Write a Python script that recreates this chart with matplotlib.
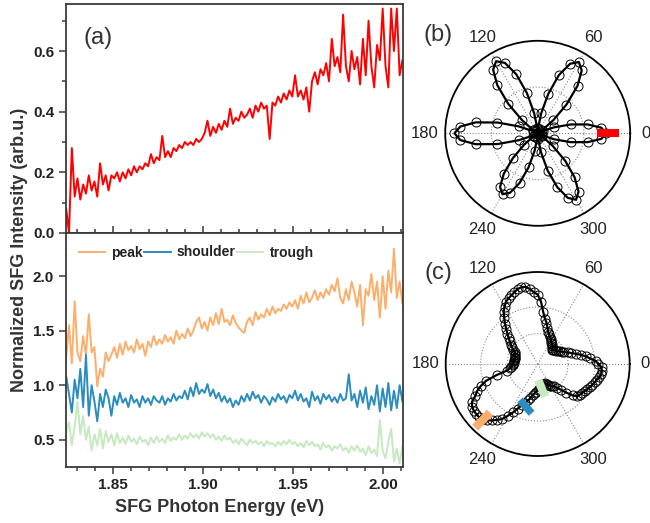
import numpy as np
import matplotlib
matplotlib.use("Agg")
import matplotlib.pyplot as plt
from matplotlib.ticker import MultipleLocator

plt.rcParams['font.family'] = ['Liberation Sans', 'DejaVu Sans']

# ---------------- data ----------------
energy_start, energy_stop = 1.824, 2.0108

spec_a = [0.08, 0.00, 0.28, 0.12,
          0.18, 0.11, 0.16, 0.13, 0.19, 0.14,
          0.17, 0.12, 0.23, 0.16, 0.19, 0.14, 0.19,
          0.18, 0.20, 0.17, 0.20, 0.18, 0.21, 0.19, 0.22,
          0.20, 0.22, 0.21, 0.23, 0.22, 0.26, 0.23, 0.25,
          0.24, 0.32, 0.25, 0.27, 0.25, 0.28, 0.27, 0.29,
          0.28, 0.30, 0.29, 0.30, 0.29, 0.31, 0.30, 0.31,
          0.33, 0.37, 0.32, 0.35, 0.33, 0.36, 0.34, 0.37,
          0.35, 0.41, 0.36, 0.38, 0.37, 0.40, 0.38, 0.39,
          0.41, 0.38, 0.42, 0.40, 0.43, 0.41, 0.42, 0.31,
          0.43, 0.42, 0.45, 0.43, 0.46, 0.44, 0.47, 0.45,
          0.52, 0.45, 0.47, 0.44, 0.48, 0.40, 0.50, 0.53,
          0.49, 0.54, 0.52, 0.56, 0.50, 0.64, 0.55, 0.58,
          0.53, 0.72, 0.55, 0.50, 0.60, 0.54, 0.58, 0.49,
          0.64, 0.52, 0.70, 0.55, 0.48, 0.62, 0.57, 0.74,
          0.55, 0.48, 0.74, 0.60, 0.74, 0.52, 0.57]

peak = [1.25, 1.55, 1.20, 1.77,
        1.30, 1.22, 1.45, 1.28, 1.65, 1.30,
        1.35, 0.99, 1.15, 1.08, 1.30, 1.22, 1.28,
        1.35, 1.25, 1.38, 1.28, 1.40, 1.32, 1.36, 1.30,
        1.42, 1.33, 1.38, 1.27, 1.40, 1.35, 1.45, 1.37,
        1.42, 1.38, 1.46, 1.40, 1.44, 1.38, 1.50, 1.42,
        1.47, 1.43, 1.52, 1.45, 1.50, 1.58, 1.62, 1.52,
        1.58, 1.50, 1.62, 1.55, 1.66, 1.56, 1.70, 1.58,
        1.60, 1.55, 1.64, 1.57, 1.53, 1.50, 1.48, 1.58,
        1.62, 1.55, 1.67, 1.60, 1.65, 1.62, 1.70, 1.64,
        1.72, 1.66, 1.70, 1.68, 1.74, 1.70, 1.76, 1.72,
        1.78, 1.70, 1.82, 1.75, 1.85, 1.76, 1.80, 1.87,
        1.78, 1.85, 1.80, 1.88, 1.83, 1.92, 1.86, 1.98,
        1.80, 1.75, 1.88, 1.78, 1.95, 1.85, 1.72, 1.92,
        1.55, 1.88, 1.82, 2.02, 1.78, 1.95, 1.62, 2.00,
        1.70, 2.05, 1.85, 2.25, 1.80, 1.95, 1.75]

shoulder = [1.08, 0.92, 0.75, 1.05,
            0.88, 1.15, 0.80, 1.28, 0.72, 1.00,
            0.85, 0.67, 0.92, 0.80, 0.96, 0.88, 0.72,
            0.90, 0.82, 0.93, 0.84, 0.88, 0.80, 0.91, 0.84,
            0.87, 0.80, 0.90, 0.84, 0.88, 0.82, 0.90, 0.86,
            0.84, 0.90, 0.82, 0.88, 0.85, 0.92, 0.86, 0.90,
            0.88, 0.95, 0.87, 0.98, 0.90, 1.02, 0.92, 0.96,
            0.93, 1.01, 0.90, 0.96, 0.88, 0.93, 0.85, 0.90,
            0.84, 0.88, 0.80, 0.86, 0.82, 0.90, 0.85, 0.92,
            0.86, 0.94, 0.88, 0.91, 0.84, 0.90, 0.87, 0.82,
            0.89, 0.85, 0.92, 0.87, 0.90, 0.84, 0.91, 0.88,
            0.95, 0.86, 0.92, 0.85, 0.88, 0.80, 0.94, 0.86,
            0.90, 0.83, 0.92, 0.87, 0.91, 0.85, 0.89, 0.84,
            0.92, 0.86, 0.88, 1.10, 0.86, 0.92, 0.80, 0.95,
            0.84, 0.98, 0.78, 0.90, 0.82, 1.00, 0.76, 0.97,
            0.80, 1.02, 0.77, 0.95, 0.79, 1.00, 0.85]

trough = [0.58, 0.66, 0.45, 0.62,
          0.85, 0.55, 0.72, 0.50, 0.62, 0.40,
          0.55, 0.45, 0.60, 0.42, 0.58, 0.48, 0.55,
          0.45, 0.56, 0.47, 0.52, 0.46, 0.54, 0.48, 0.51,
          0.46, 0.53, 0.48, 0.50, 0.45, 0.52, 0.47, 0.53,
          0.48, 0.51, 0.47, 0.54, 0.49, 0.52, 0.50, 0.55,
          0.50, 0.54, 0.51, 0.56, 0.52, 0.55, 0.51, 0.57,
          0.53, 0.56, 0.52, 0.55, 0.50, 0.53, 0.49, 0.54,
          0.50, 0.52, 0.47, 0.50, 0.46, 0.51, 0.48, 0.45,
          0.50, 0.47, 0.49, 0.46, 0.48, 0.44, 0.49, 0.46,
          0.47, 0.44, 0.48, 0.45, 0.49, 0.46, 0.50, 0.46,
          0.48, 0.44, 0.47, 0.43, 0.49, 0.45, 0.48, 0.44,
          0.46, 0.41, 0.47, 0.43, 0.45, 0.40, 0.44, 0.42,
          0.46, 0.40, 0.43, 0.38, 0.44, 0.40, 0.45, 0.39,
          0.42, 0.36, 0.44, 0.38, 0.41, 0.35, 0.68, 0.40,
          0.33, 0.48, 0.60, 0.30, 0.42, 0.28, 0.45]

legend_labels = ['peak', 'shoulder', 'trough']

# polar (b): six-fold pattern, 5 degree steps from 0
polar_b = [0.74, 0.69, 0.55, 0.37, 0.19, 0.06, 0.01, 0.06, 0.22, 0.44, 0.67, 0.83,
           0.89, 0.83, 0.67, 0.44, 0.22, 0.06, 0.01, 0.06, 0.22, 0.45, 0.68, 0.84,
           0.90, 0.84, 0.68, 0.45, 0.22, 0.06, 0.01, 0.06, 0.22, 0.45, 0.68, 0.84,
           0.90, 0.84, 0.68, 0.45, 0.22, 0.06, 0.01, 0.05, 0.19, 0.38, 0.57, 0.71,
           0.76, 0.71, 0.57, 0.38, 0.19, 0.05, 0.01, 0.06, 0.21, 0.42, 0.62, 0.77,
           0.83, 0.77, 0.62, 0.42, 0.21, 0.06, 0.01, 0.05, 0.19, 0.37, 0.55, 0.69]

# polar (c): three-lobed pattern, 3 degree steps from 0
polar_c = [0.66, 0.63, 0.575, 0.53, 0.48, 0.43, 0.385, 0.35, 0.315, 0.295,
           0.28, 0.26, 0.245, 0.235, 0.225, 0.215, 0.235, 0.25, 0.265, 0.275,
           0.29, 0.31, 0.325, 0.345, 0.37, 0.41, 0.46, 0.50, 0.57, 0.68,
           0.755, 0.78, 0.82, 0.85, 0.852, 0.845, 0.82, 0.80, 0.78, 0.76,
           0.72, 0.68, 0.62, 0.565, 0.51, 0.465, 0.425, 0.39, 0.36, 0.335,
           0.305, 0.28, 0.27, 0.265, 0.26, 0.255, 0.255, 0.258, 0.26, 0.262,
           0.265, 0.268, 0.29, 0.31, 0.34, 0.46, 0.59, 0.66, 0.72, 0.76,
           0.825, 0.85, 0.86, 0.862, 0.86, 0.845, 0.823, 0.79, 0.75, 0.715,
           0.65, 0.59, 0.53, 0.48, 0.445, 0.41, 0.38, 0.345, 0.32, 0.30,
           0.285, 0.27, 0.255, 0.245, 0.235, 0.23, 0.225, 0.225, 0.24, 0.256,
           0.27, 0.285, 0.30, 0.335, 0.375, 0.44, 0.51, 0.555, 0.567, 0.577,
           0.59, 0.605, 0.62, 0.635, 0.65, 0.665, 0.685, 0.70, 0.70, 0.695]

angle_ticks = [0, 60, 120, 180, 240, 300]

# probe markers: (theta1, r1, theta2, r2) in degrees / radius
bar_b = (0, 0.64, 0, 0.88)
bar_peak = (225.5, 0.74, 225.5, 0.97)
bar_shoulder = (243.8, 0.436, 263.0, 0.54)
bar_trough = (272.0, 0.174, 282.6, 0.364)

c_red = '#ff0000'
c_peak = '#fdae6b'
c_sh = '#2b8cbe'
c_tr = '#c7e9c0'
spine_c = '#3a3a3a'
text_c = '#222222'

# ---------------- figure ----------------
fig = plt.figure(figsize=(6.5, 5.23), dpi=100)

W, H = 650.0, 523.0
ax_a = fig.add_axes([66 / W, 1 - 233 / H, 337 / W, 229 / H])
ax_s = fig.add_axes([66 / W, 1 - 466.5 / H, 337 / W, 233.5 / H])

energy = np.linspace(energy_start, energy_stop, len(spec_a))

ax_a.plot(energy, spec_a, color=c_red, lw=1.4)
ax_s.plot(energy, peak, color=c_peak, lw=1.4, label=legend_labels[0])
ax_s.plot(energy, shoulder, color=c_sh, lw=1.4, label=legend_labels[1])
ax_s.plot(energy, trough, color=c_tr, lw=1.4, label=legend_labels[2])

for ax in (ax_a, ax_s):
    ax.set_xlim(1.8239, 2.0111)
    ax.xaxis.set_major_locator(MultipleLocator(0.05))
    ax.xaxis.set_minor_locator(MultipleLocator(0.01))
    for s in ax.spines.values():
        s.set_color(spine_c)
        s.set_linewidth(1.3)
    ax.tick_params(which='both', color=spine_c, width=1.1, labelsize=11,
                   labelcolor=text_c, top=False, right=False)
    ax.tick_params(which='major', length=5)
    ax.tick_params(which='minor', length=3)
    for lab in ax.get_xticklabels() + ax.get_yticklabels():
        lab.set_fontweight('bold')

ax_a.set_ylim(0, 0.755)
ax_a.yaxis.set_major_locator(MultipleLocator(0.2))
ax_a.yaxis.set_minor_locator(MultipleLocator(0.1))
ax_a.yaxis.set_major_formatter(matplotlib.ticker.FormatStrFormatter('%.1f'))
ax_a.tick_params(axis='x', which='both', direction='in', labelbottom=False)
ax_a.tick_params(axis='y', which='both', direction='out')

ax_s.set_ylim(0.255, 2.395)
ax_s.yaxis.set_major_locator(MultipleLocator(0.5))
ax_s.yaxis.set_minor_locator(matplotlib.ticker.NullLocator())
ax_s.yaxis.set_major_formatter(matplotlib.ticker.FormatStrFormatter('%.1f'))
ax_s.tick_params(axis='both', which='both', direction='out')

for lab in ax_a.get_yticklabels() + ax_s.get_xticklabels() + ax_s.get_yticklabels():
    lab.set_fontweight('bold')

leg = ax_s.legend(loc='upper left', bbox_to_anchor=(0.0, 1.0), ncol=3, frameon=False,
                  handlelength=1.9, handletextpad=0.45, columnspacing=0.1,
                  prop={'weight': 'bold', 'size': 10}, borderaxespad=0.5)
for t in leg.get_texts():
    t.set_color(text_c)

ax_a.text(0.095, 0.85, '(a)', transform=ax_a.transAxes, fontsize=17, color='#333333',
          ha='center', va='center')

fig.text(220 / W, 1 - 508 / H, 'SFG Photon Energy (eV)', ha='center', va='center',
         fontsize=13, fontweight='bold', color='#333333')
fig.text(20 / W, 1 - 250 / H, 'Normalized SFG Intensity (arb.u.)', ha='center',
         va='center', rotation=90, fontsize=13, fontweight='bold', color='#333333')


# ---------------- polar panels ----------------
def polar_panel(rect, values, rings, label):
    ax = fig.add_axes(rect, projection='polar')
    ax.set_ylim(0, 1)
    ax.set_thetagrids(angle_ticks, labels=[''] * len(angle_ticks))
    ax.set_rgrids(rings, labels=[''] * len(rings))
    ax.grid(True, color='#888888', linestyle=':', linewidth=0.8)
    ax.spines['polar'].set_linewidth(1.3)
    ax.spines['polar'].set_color('black')
    ax.tick_params(length=0)
    th = np.deg2rad(np.arange(len(values)) * 360.0 / len(values))
    th_c = np.append(th, th[0])
    r_c = np.append(values, values[0])
    ax.plot(th_c, r_c, color='black', lw=1.6, zorder=3)
    ax.plot(th, values, 'o', mfc='none', mec='black', ms=6.5, mew=0.7, zorder=3)
    for a in angle_ticks:
        rr = 1.2 if a not in (0, 180) else (1.17 if a == 0 else 1.22)
        ax.text(np.deg2rad(a), rr, str(a), ha='center', va='center', fontsize=12,
                color='#222222', clip_on=False)
    return ax


ax_b = polar_panel([(537.7 - 92.5) / W, 1 - (133.3 + 92.5) / H, 185 / W, 185 / H],
                   polar_b, [0.5], '(b)')
ax_c = polar_panel([(537.7 - 92) / W, 1 - (364 + 92) / H, 184 / W, 184 / H],
                   polar_c, [0.33, 0.62], '(c)')


def bar(ax, spec, color, lw):
    t1, r1, t2, r2 = spec
    ax.plot([np.deg2rad(t1), np.deg2rad(t2)], [r1, r2], color=color, lw=lw,
            solid_capstyle='butt', zorder=5)


bar(ax_b, bar_b, c_red, 5.8)
bar(ax_c, bar_peak, c_peak, 6.0)
bar(ax_c, bar_shoulder, c_sh, 5.5)
bar(ax_c, bar_trough, c_tr, 6.0)

fig.text(438 / W, 1 - 35 / H, '(b)', ha='center', va='center', fontsize=17, color='#333333')
fig.text(438 / W, 1 - 273 / H, '(c)', ha='center', va='center', fontsize=17, color='#333333')

fig.savefig('out.png', dpi=100)
